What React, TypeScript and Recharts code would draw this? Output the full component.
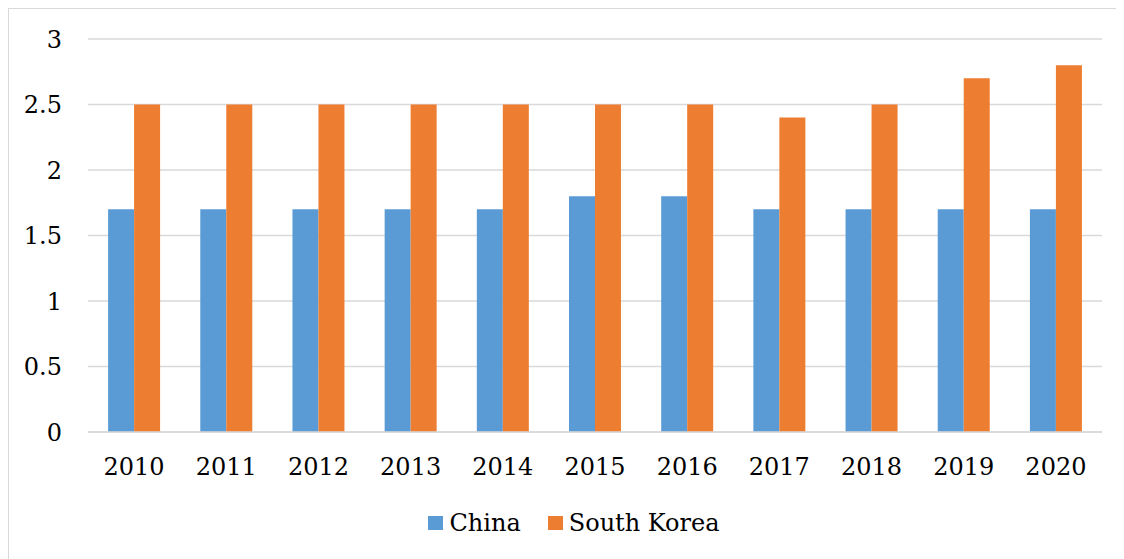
import React from "react";
import { BarChart, Bar, XAxis, YAxis, CartesianGrid, Legend } from "recharts";

const years = ["2010", "2011", "2012", "2013", "2014", "2015", "2016", "2017", "2018", "2019", "2020"];
const china = [1.7, 1.7, 1.7, 1.7, 1.7, 1.8, 1.8, 1.7, 1.7, 1.7, 1.7];
const southKorea = [2.5, 2.5, 2.5, 2.5, 2.5, 2.5, 2.5, 2.4, 2.5, 2.7, 2.8];
const yTicks = [0, 0.5, 1, 1.5, 2, 2.5, 3];

const data = years.map((year, i) => ({
  year,
  China: china[i],
  "South Korea": southKorea[i],
}));

const FONT = "'DejaVu Serif', serif";
const BLUE = "#5b9bd5";
const ORANGE = "#ed7d31";
const GRID = "#d9d9d9";

const LegendContent = () => {
  const items = [
    { name: "China", color: BLUE },
    { name: "South Korea", color: ORANGE },
  ];
  return (
    <div
      style={{
        display: "flex",
        justifyContent: "center",
        alignItems: "center",
        height: 57,
        paddingLeft: 37,
        paddingTop: 4,
        boxSizing: "border-box",
        fontFamily: FONT,
        fontSize: 24,
        color: "#000",
      }}
    >
      {items.map((it, i) => (
        <div key={it.name} style={{ display: "flex", alignItems: "center", marginLeft: i ? 27 : 0 }}>
          <span style={{ width: 15, height: 14, background: it.color, display: "inline-block", marginRight: 6 }} />
          <span>{it.name}</span>
        </div>
      ))}
    </div>
  );
};

export default function App() {
  return (
    <div
      style={{
        position: "relative",
        width: 1124,
        height: 559,
        border: `1.5px solid ${GRID}`,
        boxSizing: "border-box",
        background: "#fff",
        fontFamily: FONT,
      }}
    >
      <BarChart
        width={1115}
        height={550}
        data={data}
        margin={{ top: 30, right: 22, left: 0, bottom: 10 }}
        barCategoryGap="21.8%"
        barGap={0}
      >
        <CartesianGrid vertical={false} stroke={GRID} strokeWidth={1.5} />
        <XAxis
          dataKey="year"
          height={60}
          tickLine={false}
          tickSize={0}
          tickMargin={26}
          axisLine={{ stroke: GRID, strokeWidth: 1.5 }}
          tick={{ fill: "#000", fontSize: 24, fontFamily: FONT }}
        />
        <YAxis
          width={79}
          domain={[0, 3]}
          ticks={yTicks}
          axisLine={false}
          tickLine={false}
          tickSize={0}
          tickMargin={26}
          tick={{ fill: "#000", fontSize: 24, fontFamily: FONT }}
        />
        <Legend verticalAlign="bottom" height={57} content={<LegendContent />} />
        <Bar dataKey="China" fill={BLUE} isAnimationActive={false} />
        <Bar dataKey="South Korea" fill={ORANGE} isAnimationActive={false} />
      </BarChart>
    </div>
  );
}
